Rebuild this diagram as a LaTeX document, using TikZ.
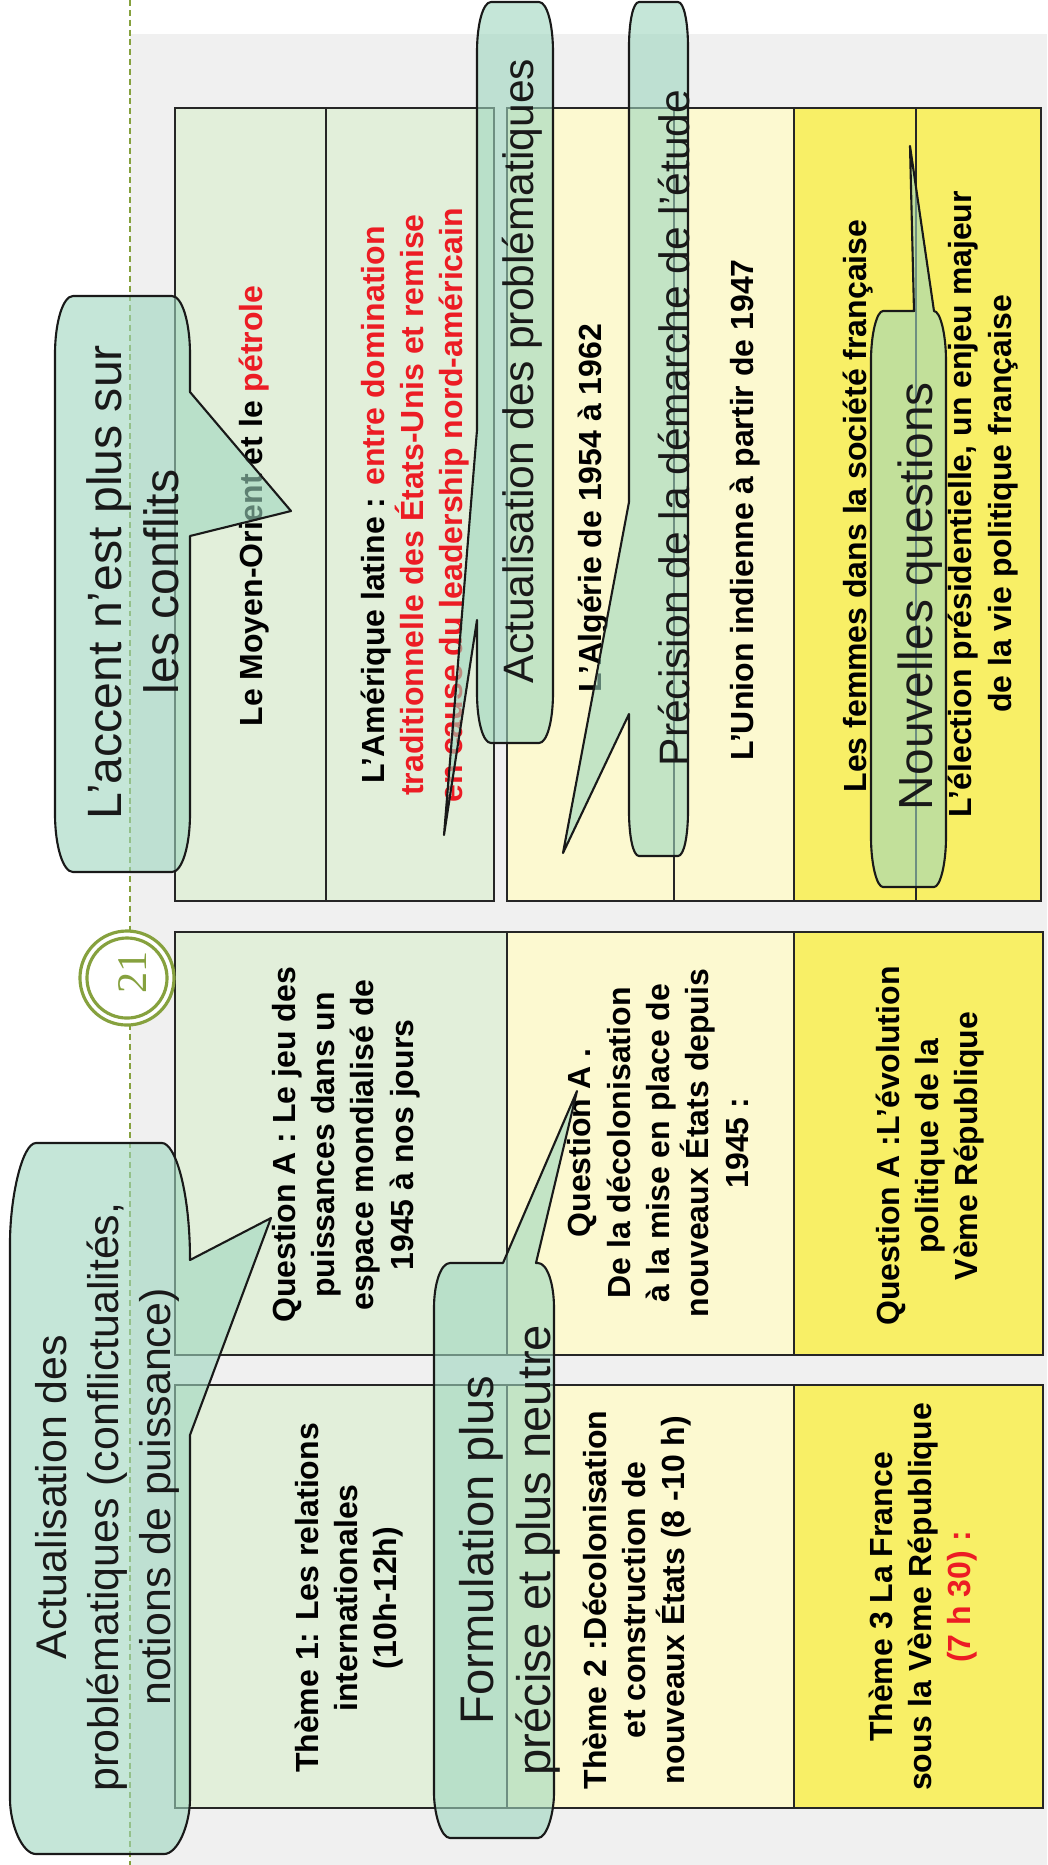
\documentclass[tikz,border=0pt]{standalone}
\usepackage{fontspec}
\setmainfont{Liberation Sans}
\newfontfamily\slidenumfont{Liberation Serif}
\definecolor{cellgreen}{RGB}{226,239,218}
\definecolor{cellcream}{RGB}{252,249,208}
\definecolor{cellyellow}{RGB}{248,239,102}
\definecolor{slidered}{RGB}{236,28,36}
\definecolor{bubblegreen}{RGB}{158,214,190}
\definecolor{olive}{RGB}{134,161,62}
\definecolor{slidegrey}{RGB}{240,240,240}

\begin{document}
\begin{tikzpicture}[x=0.01cm,y=-0.01cm,
  cell/.style={draw=black!85,line width=0.6pt},
  celltext/.style={rotate=90,align=center,font=\fontsize{9.1}{11.2}\selectfont\bfseries},
  bubble/.style={fill=bubblegreen,fill opacity=0.6,draw=black!90,line width=0.6pt,line join=round},
  bubbletext/.style={rotate=90,align=center,text=black!90}]
\useasboundingbox (0,0) rectangle (1047,1865);

% background of the slide
\fill[slidegrey] (130,34) rectangle (1047,1865);
\draw[olive,line width=0.45pt,dash pattern=on 1.7pt off 1.1pt] (130,0) -- (130,1865);

% upper table
\filldraw[cell,fill=cellgreen] (175,108) rectangle (326,901);
\filldraw[cell,fill=cellgreen] (326,108) rectangle (494,901);
\filldraw[cell,fill=cellcream] (507,108) rectangle (674,901);
\filldraw[cell,fill=cellcream] (674,108) rectangle (794,901);
\filldraw[cell,fill=cellyellow] (794,108) rectangle (916,901);
\filldraw[cell,fill=cellyellow] (916,108) rectangle (1041,901);

% lower table
\filldraw[cell,fill=cellgreen] (175,932) rectangle (507,1355);
\filldraw[cell,fill=cellcream] (507,932) rectangle (794,1355);
\filldraw[cell,fill=cellyellow] (794,932) rectangle (1043,1355);
\filldraw[cell,fill=cellgreen] (175,1385) rectangle (507,1808);
\filldraw[cell,fill=cellcream] (507,1385) rectangle (794,1808);
\filldraw[cell,fill=cellyellow] (794,1385) rectangle (1043,1808);

% slide number
\filldraw[draw=olive,line width=0.9pt,fill=white] (127,978) circle (0.47cm);
\draw[olive,line width=0.9pt] (127,978) circle (0.40cm);
\node[rotate=90,text=olive,font=\slidenumfont\fontsize{12}{12}\selectfont] (num) at (133,972) {21};

% texts of the table
\node[celltext] (moyen) at (254,506) {Le Moyen-Orient et le \textcolor{slidered}{pétrole}};
\node[celltext] (amerique) at (415,505) {L’Amérique latine : \textcolor{slidered}{entre domination}\\
  \textcolor{slidered}{traditionnelle des États-Unis et remise}\\
  \textcolor{slidered}{en cause du leadership nord-américain}};
\node[celltext] (algerie) at (593,508) {L’Algérie de 1954 à 1962};
\node[celltext] (union) at (745,510) {L'Union indienne à partir de 1947};
\node[celltext] (femmes) at (858,506) {Les femmes dans la société française};
\node[celltext] (election) at (983,504) {L'élection présidentielle, un enjeu majeur\\de la vie politique française};

\node[celltext] (qA1) at (346,1145) {Question A : Le jeu des\\puissances dans un\\espace mondialisé de\\1945 à nos jours};
\node[celltext] (qA2) at (658,1143) {Question A .\\De la décolonisation\\à la mise en place de\\nouveaux États depuis\\1945 :};
\node[celltext] (qA3) at (930,1146) {Question A :L’évolution\\politique de la\\Vème République};

\node[celltext] (theme1) at (349,1598) {Thème 1: Les relations\\internationales\\(10h-12h)};
\node[celltext] (theme2) at (637,1600) {Thème 2 :Décolonisation\\et construction de\\nouveaux États (8 -10 h)};
\node[celltext] (theme3) at (923,1597) {Thème 3 La France\\sous la Vème République\\\textcolor{slidered}{(7 h 30) :}};

% callouts
\filldraw[bubble] (73,296) -- (172,296) .. controls (182,296) and (190,322) .. (190,354)
  -- (190,392) -- (291,511) -- (190,536)
  -- (190,814) .. controls (190,846) and (182,872) .. (172,872)
  -- (73,872) .. controls (63,872) and (55,846) .. (55,814)
  -- (55,354) .. controls (55,322) and (63,296) .. cycle;
\filldraw[bubble] (491,2) -- (539,2) .. controls (547,2) and (553,24) .. (553,52)
  -- (553,693) .. controls (553,721) and (547,743) .. (539,743)
  -- (491,743) .. controls (483,743) and (477,721) .. (477,693)
  -- (477,620) -- (444,835) -- (477,430)
  -- (477,52) .. controls (477,24) and (483,2) .. cycle;
\filldraw[bubble] (639,2) -- (678,2) .. controls (684,2) and (688,22) .. (688,47)
  -- (688,811) .. controls (688,836) and (684,856) .. (678,856)
  -- (639,856) .. controls (633,856) and (629,836) .. (629,811)
  -- (629,714) -- (563,853) -- (629,502)
  -- (629,47) .. controls (629,22) and (633,2) .. cycle;
\filldraw[bubble] (883,311) -- (914,311) -- (910,146) -- (934,311)
  .. controls (940,311) and (946,333) .. (946,361)
  -- (946,837) .. controls (946,865) and (940,887) .. (934,887)
  -- (883,887) .. controls (877,887) and (871,865) .. (871,837)
  -- (871,361) .. controls (871,333) and (877,311) .. cycle;
\filldraw[bubble] (36,1143) -- (162,1143) .. controls (175,1143) and (190,1190) .. (190,1260)
  -- (271,1218) -- (190,1435)
  -- (190,1799) .. controls (190,1824) and (178,1854) .. (164,1854)
  -- (36,1854) .. controls (22,1854) and (10,1824) .. (10,1799)
  -- (10,1243) .. controls (10,1198) and (22,1143) .. cycle;
\filldraw[bubble] (450,1263) -- (503,1263) -- (577,1091) -- (536,1263)
  -- (538,1263) .. controls (547,1263) and (554,1283) .. (554,1308)
  -- (554,1793) .. controls (554,1813) and (547,1838) .. (538,1838)
  -- (450,1838) .. controls (441,1838) and (434,1813) .. (434,1793)
  -- (434,1308) .. controls (434,1283) and (441,1263) .. cycle;

% texts of the callouts
\node[bubbletext,font=\fontsize{13.7}{16.2}\selectfont] (accent) at (133,582) {L’accent n’est plus sur\\les conflits};
\node[bubbletext,font=\fontsize{12.1}{14}\selectfont] (actu) at (522,371) {Actualisation des problématiques};
\node[bubbletext,font=\fontsize{12.1}{14}\selectfont] (precision) at (674,428) {Précision de la démarche de l'étude};
\node[bubbletext,font=\fontsize{13.6}{16}\selectfont] (nouvelles) at (920,596) {Nouvelles questions};
\node[bubbletext,font=\fontsize{12.2}{14.8}\selectfont] (actuconf) at (107,1497) {Actualisation des\\problématiques (conflictualités,\\notions de puissance)};
\node[bubbletext,font=\fontsize{13.4}{16.2}\selectfont] (formulation) at (510,1550) {Formulation plus\\précise et plus neutre};

\end{tikzpicture}
\end{document}
